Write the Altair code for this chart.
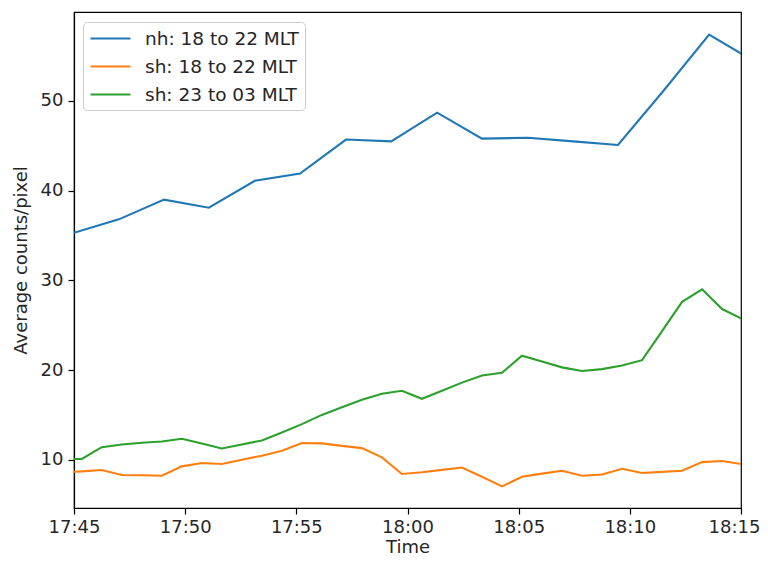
import altair as alt
import pandas as pd

DAY = "2020-01-01T"

nh_times = ["17:45:00", "17:47:01", "17:49:03", "17:51:04", "17:53:08", "17:55:10",
            "17:57:14", "17:59:16", "18:01:20", "18:03:21", "18:05:25", "18:07:27",
            "18:09:28", "18:11:32", "18:13:34", "18:15:36"]
nh_values = [35.3, 36.8, 39.0, 38.1, 41.1, 41.9, 45.7, 45.5, 48.7, 45.8, 45.9, 45.5,
             45.1, 51.2, 57.4, 54.4]

sh_times = ["17:44:27", "17:45:21", "17:46:15", "17:47:09", "17:48:03", "17:48:57",
            "17:49:51", "17:50:45", "17:51:39", "17:52:33", "17:53:27", "17:54:21",
            "17:55:15", "17:56:09", "17:57:03", "17:57:57", "17:58:51", "17:59:45",
            "18:00:39", "18:01:33", "18:02:27", "18:03:21", "18:04:15", "18:05:09",
            "18:06:03", "18:06:57", "18:07:51", "18:08:45", "18:09:39", "18:10:33",
            "18:11:27", "18:12:21", "18:13:15", "18:14:09", "18:15:03"]
sh1_values = [8.6, 8.7, 8.85, 8.3, 8.27, 8.22, 9.26, 9.63, 9.52, 10.0, 10.45, 11.0,
              11.86, 11.82, 11.55, 11.3, 10.26, 8.41, 8.6, 8.87, 9.14, 8.1, 7.03, 8.1,
              8.45, 8.77, 8.22, 8.36, 9.0, 8.52, 8.65, 8.77, 9.74, 9.86, 9.5]
sh2_values = [10.05, 10.1, 11.4, 11.7, 11.9, 12.04, 12.34, 11.8, 11.26, 11.7, 12.15,
              13.04, 13.97, 15.0, 15.85, 16.69, 17.36, 17.69, 16.8, 17.7, 18.6, 19.4,
              19.7, 21.6, 20.95, 20.3, 19.9, 20.1, 20.5, 21.1, 24.35, 27.6, 29.0, 26.8,
              25.7]

series_names = ["nh: 18 to 22 MLT", "sh: 18 to 22 MLT", "sh: 23 to 03 MLT"]
series_colors = ["#1f77b4", "#ff7f0e", "#2ca02c"]

rows = []
for t, v in zip(nh_times, nh_values):
    rows.append({"time": DAY + t, "value": v, "series": series_names[0]})
for t, v in zip(sh_times, sh1_values):
    rows.append({"time": DAY + t, "value": v, "series": series_names[1]})
for t, v in zip(sh_times, sh2_values):
    rows.append({"time": DAY + t, "value": v, "series": series_names[2]})
df = pd.DataFrame(rows)

x_ticks = [alt.DateTime(year=2020, month=1, date=1, hours=h, minutes=m)
           for h, m in [(17, 45), (17, 50), (17, 55), (18, 0), (18, 5), (18, 10), (18, 15)]]

FONT = "DejaVu Sans"
TXT = "#262626"
FS = 18

last_label_shift = {"condition": {"test": "datum.value >= time(datetime(2020, 0, 1, 18, 14))",
                                  "value": -7},
                    "value": 0}

chart = alt.Chart(df).mark_line(strokeWidth=2.1, clip=True).encode(
    x=alt.X("time:T",
            scale=alt.Scale(domain=[x_ticks[0], x_ticks[-1]], nice=False),
            axis=alt.Axis(title="Time", format="%H:%M", values=x_ticks, grid=False,
                          tickSize=6, labelPadding=4, labelFlush=False,
                          labelOffset=last_label_shift,
                          titleY=44, titleBaseline="alphabetic")),
    y=alt.Y("value:Q",
            scale=alt.Scale(domain=[4.62, 59.92], nice=False, zero=False),
            axis=alt.Axis(title="Average counts/pixel", values=[10, 20, 30, 40, 50],
                          grid=False, tickSize=6, labelPadding=5, titlePadding=10,
                          labelFlush=False)),
    color=alt.Color("series:N",
                    scale=alt.Scale(domain=series_names, range=series_colors),
                    legend=alt.Legend(title=None, orient="none", legendX=9, legendY=10,
                                      symbolType="M-1,0H3.44", symbolSize=324,
                                      symbolStrokeWidth=2.1, labelOffset=35,
                                      fillColor="white", strokeColor="#cccccc",
                                      cornerRadius=4, padding=6, rowPadding=8,
                                      labelFontSize=18.5, labelFont=FONT,
                                      labelColor=TXT)),
    order="series:N",
).properties(
    width=667, height=496,
    autosize=alt.AutoSizeParams(type="none"),
    padding={"left": 66, "top": 4, "right": 19, "bottom": 47},
).configure_view(
    stroke="black", strokeWidth=1.2
).configure_axis(
    labelFont=FONT, titleFont=FONT, labelFontSize=FS, titleFontSize=FS,
    labelColor=TXT, titleColor=TXT, titleFontWeight="normal",
    domainColor="black", tickColor="black", domainWidth=1.2, tickWidth=1.2,
)

chart.save("out.html", embed_options={"renderer": "svg", "actions": False})
